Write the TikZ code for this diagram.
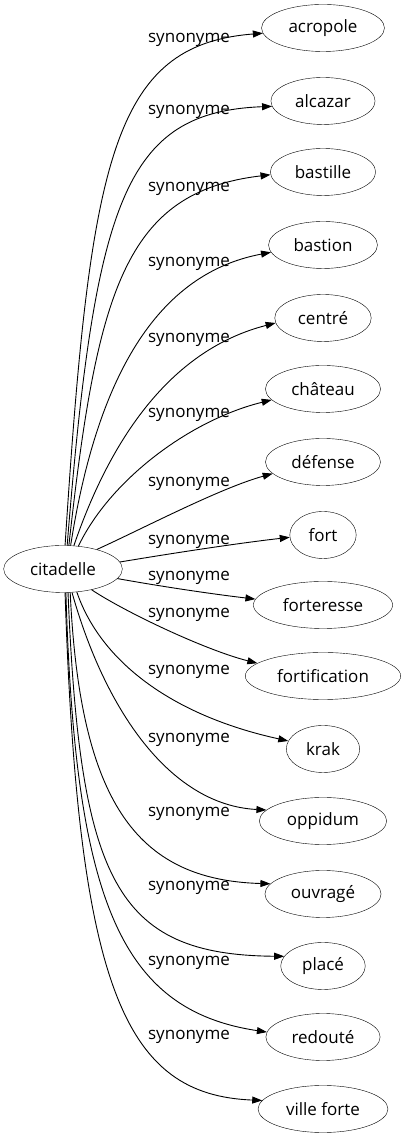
\documentclass[tikz,border=0pt]{standalone}
\usepackage{fontspec}
\setmainfont{Open Sans}
\usetikzlibrary{arrows.meta,shapes.geometric}
\definecolor{LineClr}{rgb}{0,0,0}

\begin{document}
\begin{tikzpicture}[x=1pt,y=1pt,
  Word/.style={draw=LineClr,ellipse,inner xsep=9pt,inner ysep=0pt,minimum height=47pt,font=\fontsize{17}{20}\selectfont},
  Rel/.style={font=\fontsize{17}{20}\selectfont,anchor=base,inner sep=0pt},
  Syn/.style={draw=LineClr,line width=0.9pt,-{Triangle[length=10pt,width=7pt]}}]
\useasboundingbox (0,0) rectangle (404,1139);

\node[Word] (Cit) at (63,570) {citadelle};

\node[Word] (Acr) at (323,1111) {acropole};
\node[Word] (Alc) at (323,1038) {alcazar};
\node[Word] (Bsl) at (323,967) {bastille};
\node[Word] (Bsn) at (323,894) {bastion};
\node[Word] (Cen) at (323,821) {centré};
\node[Word] (Cha) at (323,750) {château};
\node[Word] (Def) at (323,677) {défense};
\node[Word] (Fot) at (323,604) {fort};
\node[Word] (Fts) at (323,534) {forteresse};
\node[Word] (Ftf) at (323,463) {fortification};
\node[Word] (Kra) at (323,390) {krak};
\node[Word] (Opp) at (323,318) {oppidum};
\node[Word] (Ouv) at (323,245) {ouvragé};
\node[Word] (Pla) at (323,173) {placé};
\node[Word] (Red) at (323,102) {redouté};
\node[Word] (Vil) at (323,30) {ville forte};

\draw[Syn] (Cit.85) .. controls (90,979) and (112,1094) .. (Acr.185);
\draw[Syn] (Cit.80) .. controls (95,939) and (125,1027) .. (Alc.186);
\draw[Syn] (Cit.76) .. controls (97,849) and (125,947) .. (Bsl.183);
\draw[Syn] (Cit.72) .. controls (95,749) and (150,864) .. (Bsn.188);
\draw[Syn] (Cit.65) .. controls (110,699) and (170,789) .. (Cen.186);
\draw[Syn] (Cit.56) .. controls (110,659) and (190,719) .. (Cha.192);
\draw[Syn] (Cit.30) .. controls (140,609) and (220,651) .. (Def.193);
\draw[Syn] (Cit.7) .. controls (180,587) and (240,596) .. (Fot.184);
\draw[Syn] (Cit.-10) .. controls (170,551) and (220,544) .. (Fts.175);
\draw[Syn] (Cit.-36) .. controls (125,527) and (205,489) .. (Ftf.169);
\draw[Syn] (Cit.-59) .. controls (100,479) and (170,424) .. (Kra.167);
\draw[Syn] (Cit.-69) .. controls (105,429) and (170,334) .. (Opp.169);
\draw[Syn] (Cit.-73) .. controls (80,339) and (135,259) .. (Ouv.169);
\draw[Syn] (Cit.-78) .. controls (80,259) and (115,184) .. (Pla.166);
\draw[Syn] (Cit.-83) .. controls (75,239) and (120,129) .. (Red.175);
\draw[Syn] (Cit.-85) .. controls (78,149) and (125,44) .. (Vil.172);

\node[Rel] (l1) at (189,1096) {synonyme};
\node[Rel] (l2) at (189,1024) {synonyme};
\node[Rel] (l3) at (189,947) {synonyme};
\node[Rel] (l4) at (189,872) {synonyme};
\node[Rel] (l5) at (189,796) {synonyme};
\node[Rel] (l6) at (189,721) {synonyme};
\node[Rel] (l7) at (189,652) {synonyme};
\node[Rel] (l8) at (189,594) {synonyme};
\node[Rel] (l9) at (189,558) {synonyme};
\node[Rel] (l10) at (189,521) {synonyme};
\node[Rel] (l11) at (189,464) {synonyme};
\node[Rel] (l12) at (189,396) {synonyme};
\node[Rel] (l13) at (189,322) {synonyme};
\node[Rel] (l14) at (189,248) {synonyme};
\node[Rel] (l15) at (189,173) {synonyme};
\node[Rel] (l16) at (189,99) {synonyme};

\end{tikzpicture}
\end{document}
